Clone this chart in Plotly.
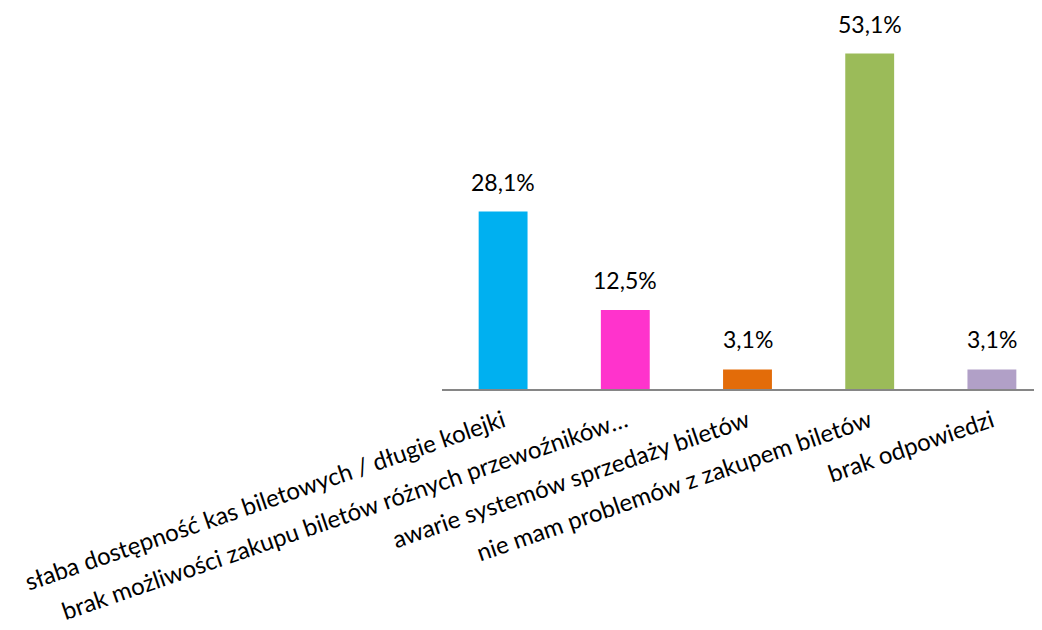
import plotly.graph_objects as go

categories = [
    "słaba dostępność kas biletowych / długie kolejki",
    "brak możliwości zakupu biletów różnych przewoźników…",
    "awarie systemów sprzedaży biletów",
    "nie mam problemów z zakupem biletów",
    "brak odpowiedzi",
]
values = [28.1, 12.5, 3.1, 53.1, 3.1]
labels = ["28,1%", "12,5%", "3,1%", "53,1%", "3,1%"]
colors = ["#00B0F0", "#FF33CC", "#E36C09", "#9BBB59", "#B1A0C7"]

FONT = "Lato, Carlito, Calibri, sans-serif"

fig = go.Figure()
fig.add_trace(go.Bar(
    x=categories, y=values,
    marker=dict(color=colors, line=dict(width=0)),
    width=0.4,
    showlegend=False,
))

# value labels above the bars
for c, v, t in zip(categories, values, labels):
    fig.add_annotation(
        x=c, y=v, text=t, showarrow=False,
        yanchor="bottom", yshift=14,
        font=dict(family=FONT, size=23, color="#000000"),
    )

# page body adds an 8px offset, so the figure is a bit smaller than the window
fig.update_layout(
    width=1034, height=622,
    margin=dict(l=434, r=0, t=2, b=241),
    paper_bgcolor="white", plot_bgcolor="white",
    font=dict(family=FONT, size=24, color="#000000"),
)
fig.update_xaxes(
    range=[-0.5, 4.41], automargin=False,
    showline=True, linecolor="#868686", linewidth=2,
    ticks="", tickangle=-19, ticklabelstandoff=7,
    tickfont=dict(family=FONT, size=24, color="#000000"),
    showgrid=False,
)
fig.update_yaxes(
    range=[0, 60], visible=False, showgrid=False, zeroline=False,
    automargin=False,
)

fig.write_html("out.html")
